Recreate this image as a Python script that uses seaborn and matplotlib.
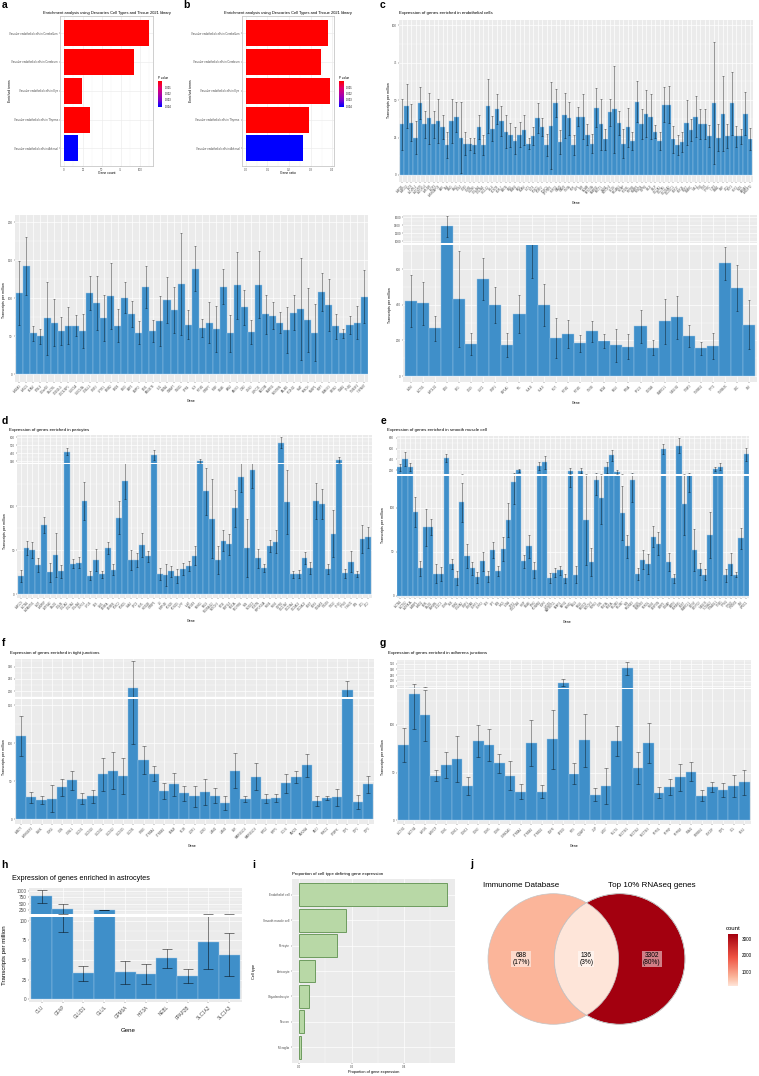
import numpy as np
import matplotlib
matplotlib.use("Agg")
import matplotlib.pyplot as plt
from matplotlib.patches import Circle
from matplotlib.colors import LinearSegmentedColormap, Normalize
from matplotlib.cm import ScalarMappable
from matplotlib.ticker import MultipleLocator
import seaborn as sns

plt.rcParams["font.family"] = ["Liberation Sans", "DejaVu Sans"]

# ---------------- data ----------------
terms = ["Vascular endothelial cells in Cerebellum", "Vascular endothelial cells in Cerebrum",
         "Vascular endothelial cells in Eye", "Vascular endothelial cells in Thymus",
         "Vascular endothelial cells in Adrenal"]
gene_count = [112, 92, 24, 34, 18]
gene_ratio = [0.380, 0.349, 0.389, 0.292, 0.266]
p_value = [3.8e-5, 4.1e-5, 6.5e-5, 5.2e-5, 4.1e-3]

endo_genes = ("ABCB1 ABCG2 ACE ACVRL1 ADGRF5 ADGRL4 APLNR AQP1 ARHGAP29 BMX CA4 CAV1 CAV2 CD34 CD93 CDH5 "
              "CLDN5 COL4A1 COL4A2 CXCL12 DLL4 ECSCR EGFL7 EMCN ENG EPAS1 ERG ESAM FLT1 FLT4 FOXC1 FOXF2 "
              "FOXQ1 GPIHBP1 HSPG2 ICAM1 ICAM2 ITM2A KDR LEF1 LSR MCAM MFSD2A MMRN2 MYCT1 NOS3 NOTCH4 OCLN "
              "PECAM1 PLVAP PODXL PTPRB RAMP2 ROBO4 S1PR1 SELE SELP SLC2A1 SLC7A5 SLCO1A2 SLCO1C1 SOX17 "
              "SOX18 SOX7 SPARC TAL1 TEK TIE1 TFRC TJP1 VWA1 VWF ZIC3 HEY1 HEY2 NID1 LAMA4 ANGPT2").split()
endo_tpm = [34, 46, 35, 25, 48, 34, 38, 34, 36, 32, 20, 36, 39, 25, 21, 21, 20, 32, 20, 46,
            31, 44, 36, 29, 27, 23, 27, 30, 21, 26, 38, 32, 20, 33, 48, 22, 40, 38, 20, 39,
            39, 27, 21, 45, 34, 24, 42, 44, 35, 21, 32, 23, 49, 34, 41, 39, 29, 23, 47, 47,
            24, 20, 22, 35, 30, 39, 34, 34, 26, 48, 25, 41, 26, 48, 26, 26, 41, 24]
endo_sd = [17, 14.5, 12.5, 11, 10.5, 9, 17, 9, 14.5, 8, 9, 14.5, 10, 23.5, 8, 4, 5, 8, 6.5, 18,
           8.5, 10, 10, 11, 8, 9, 8.5, 10, 3.5, 6, 10, 6, 7.5, 29, 9.5, 8, 15, 11, 7, 6.5,
           15, 7, 6.5, 13, 17, 7, 9, 29, 8, 10, 13, 6, 13.5, 10, 15.5, 15, 4.5, 6, 11.5, 12.5,
           9, 7, 6.5, 15, 7.5, 13.5, 10, 10, 7.5, 41, 9, 25, 8, 21, 7, 5, 14.5, 7.5]

endo2_genes = ("ANXA3 ARL15 BCAM BTNL9 C10orf10 CALCRL CD300LG CDC42EP1 CLEC1A CLEC14A COBLL1 CRIP2 "
               "CYYR1 EFNB2 EHD4 ELK3 EMP1 ENPP2 ETS1 FAM167B FLI1 GATA2 GIMAP7 GNG11 GPR4 HLX IFITM1 "
               "IGFBP7 INSR ITGA6 JAM2 KANK3 LDB2 LIMS2 LRRC32 MECOM MMRN1 NOSTRIN PALMD PCDH12 PLAT "
               "PRKCH RASIP1 RBP7 SHANK3 SPNS2 STAB1 THBD TM4SF1 TSPAN7").split()
endo2_tpm = [107, 143, 54, 50, 74, 68, 57, 64, 64, 57, 107, 94, 74, 103, 64, 101, 79, 55, 115, 57,
             70, 98, 85, 119, 65, 139, 61, 68, 60, 115, 54, 117, 88, 56, 118, 79, 77, 68, 58, 81,
             86, 71, 55, 108, 91, 63, 54, 65, 68, 102]
endo2_sd = [42, 38, 10, 9.5, 48, 31, 19, 24, 14, 23, 22, 36, 30, 43, 22, 20, 17, 15, 28, 14,
            33, 30, 30, 67, 19, 30, 12, 27, 30, 23, 24, 44, 23, 16, 44, 26, 18, 14, 30, 23,
            67, 42, 38, 25, 34, 16, 6, 12, 22, 35]

endo3_genes = ("A2M ACTG1 APOLD1 B2M BSG CD59 CLIC1 CRIP1 EEF1A1 FTL HLA-B HLA-E IFI27 IFITM2 IFITM3 "
               "ITM2B MT2A MYL6 PTMA RPL13 S100A6 SPARCL1 TAGLN2 TIMP3 TMSB10 TPT1 TMSB4X UBC VIM").split()
endo3_tpm = [421, 407, 267, 1367, 432, 181, 544, 398, 174, 348, 740, 398, 211, 235, 185, 252, 198,
             172, 164, 278, 159, 306, 329, 224, 155, 168, 632, 495, 288]
endo3_sd = [148, 118, 71, 267, 269, 62, 118, 100, 67, 107, 190, 117, 112, 78, 48, 59, 38, 91, 70,
            90, 41, 124, 120, 62, 37, 71, 94, 129, 137]

peri_genes = ("ABCC9 ACTA2 ADAMTS1 AGT ANPEP ATP1A2 CALD1 CD248 COL1A2 COL3A1 COL4A5 CSPG4 CYGB DES "
              "DLK1 EDNRA EDNRB FOXC2 FOXD1 GJA4 GPC3 HEYL HIGD1B IGFBP5 IL6 INPP4B KCNJ8 KCNJ15 LHFP "
              "LUM MFGE8 MYH11 MYL9 NDUFA4L2 NOTCH3 NT5E P2RY14 PDE1A PDGFRB PLN PLXDC1 POSTN PPP1R14A "
              "RGS4 RGS5 S1PR3 SLC12A7 SLC19A1 SLC6A12 SLC6A20 SOST SOX9 STEAP4 TBX18 TBX2 THY1 TPM2 "
              "TSHZ2 VTN ZIC1 ZIC2").split()
peri_tpm = [21, 53, 50, 33, 79, 25, 45, 26, 416, 35, 36, 106, 21, 39, 23, 53, 28, 87, 129, 39,
            39, 56, 43, 375, 23, 22, 26, 21, 29, 32, 44, 300, 117, 86, 39, 61, 57, 98, 133, 53,
            141, 41, 30, 55, 60, 529, 105, 23, 23, 41, 30, 106, 103, 29, 69, 311, 24, 37, 23, 63, 65]
peri_sd = [7, 8, 9, 8, 9, 11, 25, 7, 42, 5, 6, 22, 5, 13, 4, 7, 6, 19, 21, 11,
           8, 14, 6, 62, 7, 13, 6, 8, 7, 6, 11, 21, 27, 45, 16, 12, 12, 21, 17, 33,
           20, 11, 5, 7, 13, 71, 36, 4, 5, 7, 7, 20, 17, 6, 27, 35, 5, 12, 3, 16, 12]

smc_genes = ("ACTA2 ACTG2 ADRA1A AEBP1 ANO1 BGN CALD1 CARMN CCDC3 CDH6 CKB CNN1 COL6A2 CRIP1 CRYAB "
             "CSRP1 CSRP2 DES DPT ELN FHL5 FLNA GPX3 GUCY1A3 HHIP ITGA8 JPH2 KCNMB1 LGR6 LMOD1 "
             "MAP3K7CL MFAP4 MRVI1 MYH11 MYL9 MYLK MYOCD NOTCH3 NTRK3 OGN PDE3A PDE5A PDLIM3 PDLIM7 "
             "PLN PRUNE2 PTGIS RBPMS2 RERGL RGS5 SBSPON SFRP1 SLMAP SMTN SORBS1 SOST SPARCL1 SYNM "
             "SYNPO2 TAGLN TCEAL2 TINAGL1 TNS1 TPM1 TPM2 TRIM55 VIM WFDC1").split()
smc_tpm = [255, 402, 261, 95, 31, 78, 78, 25, 25, 426, 36, 20, 106, 45, 31, 21, 39, 22, 52, 28,
           53, 86, 129, 200, 39, 56, 29, 280, 347, 20, 26, 29, 20, 180, 24, 194, 86, 38, 132, 111,
           255, 475, 170, 94, 56, 132, 25, 41, 36, 67, 59, 592, 38, 20, 653, 104, 138, 52, 30, 24,
           69, 218, 267, 23, 36, 24, 65, 494]
smc_sd = [60, 128, 80, 17, 9, 21, 9, 11, 8, 74, 6, 8, 22, 14, 7, 6, 11, 6, 9, 6,
          14, 19, 25, 24, 7, 13, 9, 79, 116, 6, 5, 5, 5, 57, 10, 43, 51, 16, 18, 30,
          98, 98, 30, 31, 13, 25, 7, 11, 11, 12, 13, 98, 10, 5, 135, 35, 20, 24, 7, 6,
          26, 37, 68, 7, 12, 3, 12, 122]

tj_genes = ("AMOT ARHGEF2 CASK CDK4 CGN CGNL1 CLDN1 CLDN10 CLDN11 CLDN12 CLDN15 CLDN5 CRB3 CTNNA1 "
            "CTNNB1 ESAM F11R ILDR1 ILDR2 JAM2 JAM3 LSR MARVELD2 MARVELD3 MPDZ MPP5 OCLN PARD3 "
            "PARD6A PATJ PRKCZ SYMPK TJP1 TJP2 TJP3").split()
tj_tpm = [109, 29, 25, 27, 42, 51, 27, 30, 59, 64, 57, 212, 78, 60, 37, 46, 34, 30, 36, 31,
          21, 64, 27, 56, 27, 28, 47, 55, 71, 24, 28, 29, 204, 23, 46]
tj_sd = [26, 7, 5, 18, 11, 13, 7, 8, 22, 24, 24, 113, 18, 10, 10, 15, 10, 14, 17, 10,
         9, 23, 4, 18, 6, 5, 13, 8, 15, 7, 3, 11, 38, 9, 11]

aj_genes = ("ACTN1 ACTN4 AFDN ARVCF CDH1 CDH11 CDH13 CDH2 CDH5 CDH6 CSNK2A1 CTNNA1 CTNNB1 CTNND1 "
            "EGFR EP300 FYN IQGAP1 JUP LMO7 MLLT4 NECTIN1 NECTIN2 NECTIN3 PTPN1 PTPRF PTPRM SNAI1 "
            "SORBS1 SSX2IP TJP1 VCL YES1").split()
aj_tpm = [79, 132, 110, 47, 58, 64, 36, 83, 79, 60, 47, 30, 81, 30, 85, 182, 49, 84, 27, 36,
          83, 312, 55, 81, 29, 35, 45, 51, 26, 35, 32, 36, 40]
aj_sd = [18, 36, 27, 6, 14, 24, 9, 17, 17, 10, 15, 8, 24, 7, 31, 30, 11, 28, 7, 19,
         16, 58, 17, 21, 6, 8, 14, 10, 6, 5, 7, 12, 13]

astro_genes = ["CLU", "GFAP", "GLUD1", "GLUL", "GPM6A", "HIF3A", "NEBL", "PPAP2B", "SLC1A2", "SLC1A3"]
astro_tpm = [781, 289, 32.7, 250, 34, 32, 52, 29, 73, 57]
astro_sd = [247, 203, 9, 15, 15, 13, 12, 9, 35, 28]

cell_types = ["Endothelial cell", "Smooth muscle cell", "Pericyte", "Astrocyte",
              "Oligodendrocyte", "Neuron", "Microglia"]
cell_prop = [0.566, 0.178, 0.143, 0.059, 0.036, 0.019, 0.005]

venn_sets = ["Immunome Database", "Top 10% RNAseq genes"]
venn_counts = [688, 136, 3302]  # left only, overlap, right only

# ---------------- figure helpers ----------------
W, H = 759, 1076
BAR = "#3F8FC9"
EDGE = "#9FC6E6"
PANEL = "#EBEBEB"

fig = plt.figure(figsize=(W / 100, H / 100), dpi=100)


def box(x0, y0, x1, y1):
    return fig.add_axes([x0 / W, 1 - y1 / H, (x1 - x0) / W, (y1 - y0) / H])


def ptext(x, y, s, **kw):
    kw.setdefault("ha", "center")
    kw.setdefault("va", "center")
    fig.text(x / W, 1 - y / H, s, **kw)


def gg(ax, fs):
    ax.set_facecolor(PANEL)
    for sp in ax.spines.values():
        sp.set_visible(False)
    ax.tick_params(length=1.0, width=0.3, color="#333333", labelcolor="#4D4D4D",
                   labelsize=fs, pad=0.8)


def bars(ax, genes, vals, sd, ylim, ticks, fs=2.2, lw=0.55, cap=0.8, show_x=True, xfs=None):
    sns.barplot(x=genes, y=vals, color=BAR, saturation=1, width=1.0,
                edgecolor=EDGE, linewidth=0.3, ax=ax)
    ax.errorbar(np.arange(len(genes)), vals, yerr=sd, fmt="none", ecolor="black",
                alpha=0.5, elinewidth=lw, capsize=cap, capthick=lw)
    gg(ax, fs)
    ax.set_xlim(-0.6, len(genes) - 0.4)
    ax.set_ylim(*ylim)
    ax.set_yticks(ticks)
    ax.yaxis.set_minor_locator(MultipleLocator((ticks[1] - ticks[0]) / 2))
    ax.grid(which="major", color="white", lw=0.5)
    ax.grid(which="minor", axis="y", color="white", lw=0.25)
    ax.tick_params(which="minor", length=0)
    ax.set_axisbelow(True)
    ax.set_xlabel("")
    ax.set_ylabel("")
    if show_x:
        ax.set_xticks(range(len(genes)))
        ax.set_xticklabels(genes, rotation=45, ha="right", rotation_mode="anchor",
                           fontsize=xfs or fs * 0.9)
    else:
        ax.tick_params(axis="x", labelbottom=False, length=0)


def broken(top_box, bot_box, genes, vals, sd, top_lim, top_ticks, bot_lim, bot_ticks, **kw):
    top = box(*top_box)
    bars(top, genes, vals, sd, top_lim, top_ticks, show_x=False, **kw)
    bot = box(*bot_box)
    bars(bot, genes, vals, sd, bot_lim, bot_ticks, **kw)
    return top, bot


def letter(x, y, s):
    ptext(x, y, s, fontsize=7.5, fontweight="bold", ha="left")


# ---------------- a / b : enrichment ----------------
pv_cmap = LinearSegmentedColormap.from_list("pv", ["#FF0000", "#E5006A", "#B5009F", "#7A00CF", "#0000FF"])
pv_norm = Normalize(min(p_value), max(p_value))
pv_colors = [pv_cmap(pv_norm(p)) for p in p_value]


def enrich(x0, x1, vals, xlim, xticks, xlabels, xlabel, ylab_x):
    ax = box(x0, 15.7, x1, 165.7)
    sns.barplot(x=vals, y=terms, hue=terms, palette=pv_colors, legend=False, width=0.9,
                saturation=1, edgecolor="none", ax=ax)
    ax.set_facecolor("white")
    for sp in ax.spines.values():
        sp.set_color("#C8C8C8")
        sp.set_linewidth(0.6)
    ax.set_xlim(*xlim)
    ax.set_ylim(4.6, -0.6)
    ax.set_xticks(xticks, xlabels)
    ax.xaxis.set_minor_locator(MultipleLocator((xticks[1] - xticks[0]) / 2))
    ax.grid(which="major", color="#EBEBEB", lw=0.45)
    ax.grid(which="minor", axis="x", color="#F3F3F3", lw=0.25)
    ax.set_axisbelow(True)
    ax.tick_params(length=1.0, width=0.3, color="#333333", labelcolor="#4D4D4D",
                   labelsize=2.0, pad=0.8)
    ax.tick_params(which="minor", length=0)
    ax.set_xlabel("")
    ax.set_ylabel("")
    mid = (x0 + x1) / 2
    ptext(mid, 13.3, "Enrichment analysis using Descartes Cell Types and Tissue 2021 library",
          fontsize=2.9)
    ptext(mid, 172.7, xlabel, fontsize=2.4)
    ptext(ylab_x, 90.7, "Enriched terms", fontsize=2.4, rotation=90)
    # p value legend
    lx = x1 + 5
    ptext(lx, 78.3, "P value", fontsize=2.2, ha="left")
    cax = box(lx, 81.3, lx + 4.6, 106.7)
    cb = fig.colorbar(ScalarMappable(norm=pv_norm, cmap=pv_cmap), cax=cax)
    cax.invert_yaxis()
    cb.outline.set_visible(False)
    cb.set_ticks([0.001, 0.002, 0.003, 0.004])
    cax.tick_params(labelsize=1.8, length=1.0, width=0.3, color="white", pad=0.6)


enrich(60.3, 152.7, gene_count, (-4.9, 117.2), [0, 25, 50, 75, 100],
       ["0", "25", "50", "75", "100"], "Gene count", 10)
enrich(241.7, 334.3, gene_ratio, (-0.019, 0.409), [0.0, 0.1, 0.2, 0.3, 0.4],
       ["0.0", "0.1", "0.2", "0.3", "0.4"], "Gene ratio", 191.3)

# ---------------- c : endothelial ----------------
ax_c = box(399.3, 20, 752.7, 182)
bars(ax_c, endo_genes, endo_tpm, endo_sd, (-4.7, 103.5), [0, 25, 50, 75, 100], xfs=1.9)
ptext(399.3, 13.3, "Expression of genes enriched in endothelial cells", fontsize=3.2, ha="left")
ptext(389, 100, "Transcripts per million", fontsize=2.6, rotation=90)
ptext(576, 203, "Gene", fontsize=2.6)

ax_c2 = box(15, 215, 368.3, 381.7)
bars(ax_c2, endo2_genes, endo2_tpm, endo2_sd, (-9.7, 209.6), [0, 50, 100, 150, 200], xfs=1.9)
ptext(4.5, 300, "Transcripts per million", fontsize=2.6, rotation=90)
ptext(191, 400.5, "Gene", fontsize=2.6)

broken((403.3, 215, 756.7, 243.3), (403.3, 245, 756.7, 382.3), endo3_genes, endo3_tpm, endo3_sd,
       (951, 1650), [1000, 1200, 1400, 1600], (-35, 735), [0, 200, 400, 600], xfs=1.9)
ptext(390, 305, "Transcripts per million", fontsize=2.6, rotation=90)
ptext(576, 402.5, "Gene", fontsize=2.6)

# ---------------- d : pericytes ----------------
broken((17.3, 435, 371.7, 462.7), (17.3, 464.3, 371.7, 598.3), peri_genes, peri_tpm, peri_sd,
       (279, 625), [300, 400, 500, 600], (-4.5, 147.7), [0, 50, 100], xfs=1.9)
ptext(9.3, 430, "Expression of genes enriched in pericytes", fontsize=3.2, ha="left")
ptext(4.7, 531, "Transcripts per million", fontsize=2.6, rotation=90)
ptext(191, 621, "Gene", fontsize=2.6)

# ---------------- e : smooth muscle ----------------
broken((396.7, 436, 749.3, 474), (396.7, 476, 749.3, 598), smc_genes, smc_tpm, smc_sd,
       (132, 831), [200, 400, 600, 800], (-2.6, 136), [0, 50, 100], xfs=1.9)
ptext(387.3, 430.5, "Expression of genes enriched in smooth muscle cell", fontsize=3.2, ha="left")
ptext(383.3, 525, "Transcripts per million", fontsize=2.6, rotation=90)
ptext(567, 622, "Gene", fontsize=2.6)

# ---------------- f : tight junctions ----------------
broken((15, 659, 374, 697.3), (15, 699.3, 374, 824), tj_genes, tj_tpm, tj_sd,
       (174, 333), [200, 250, 300], (-6.2, 157.5), [0, 50, 100, 150], xfs=2.0, cap=1.2)
ptext(10, 652.7, "Expression of genes enriched in tight junctions", fontsize=3.2, ha="left")
ptext(4.3, 757, "Transcripts per million", fontsize=2.6, rotation=90)
ptext(192, 845.7, "Gene", fontsize=2.6)

# ---------------- g : adherens junctions ----------------
broken((397.3, 660, 750.7, 687.7), (397.3, 689.3, 750.7, 824), aj_genes, aj_tpm, aj_sd,
       (135, 386), [150, 200, 250, 300, 350], (-3.8, 137.4), [0, 50, 100], xfs=2.0, cap=1.2)
ptext(388.3, 653.3, "Expression of genes enriched in adherens junctions", fontsize=3.2, ha="left")
ptext(383, 757, "Transcripts per million", fontsize=2.6, rotation=90)
ptext(574, 846, "Gene", fontsize=2.6)

# ---------------- h : astrocytes ----------------
broken((29.3, 888.3, 241.7, 914), (29.3, 917.3, 241.7, 1002.3), astro_genes, astro_tpm, astro_sd,
       (94.6, 1093), [250, 500, 750, 1000], (-4.2, 104.7), [0, 25, 50, 75, 100],
       fs=3.3, xfs=3.3, lw=0.7, cap=3.5)
ptext(11.7, 879, "Expression of genes enriched in astrocytes", fontsize=5.2, ha="left")
ptext(5, 955, "Transcripts per million", fontsize=4.4, rotation=90)
ptext(128, 1031, "Gene", fontsize=4.4)

# ---------------- i : proportion per cell type ----------------
ax_i = box(292.3, 879.3, 455, 1062.7)
sns.barplot(x=cell_prop, y=cell_types, color="#B8D8A6", edgecolor="#6D9B5E", linewidth=0.7,
            width=0.9, saturation=1, ax=ax_i)
gg(ax_i, 2.2)
ax_i.set_xlim(-0.0268, 0.595)
ax_i.set_ylim(6.6, -0.6)
ax_i.set_xticks([0.0, 0.2, 0.4], ["0.0", "0.2", "0.4"])
ax_i.xaxis.set_minor_locator(MultipleLocator(0.1))
ax_i.grid(which="major", color="white", lw=0.5)
ax_i.grid(which="minor", axis="x", color="white", lw=0.25)
ax_i.tick_params(which="minor", length=0)
ax_i.set_axisbelow(True)
ax_i.set_xlabel("")
ax_i.set_ylabel("")
ptext(292.3, 874.3, "Proportion of cell type defining gene expression", fontsize=3.2, ha="left")
ptext(254, 971.7, "Cell type", fontsize=2.8, rotation=90)
ptext(374, 1071.5, "Proportion of gene expression", fontsize=2.8)

# ---------------- j : venn ----------------
venn_cmap = LinearSegmentedColormap.from_list(
    "venn", [(0, "#FEE5D9"), (0.17, "#FBB69B"), (0.55, "#EF5343"), (1, "#A3000F")])
venn_norm = Normalize(min(venn_counts), max(venn_counts))
total = sum(venn_counts)

ax_j = box(475, 870, 725, 1050)
ax_j.set_xlim(-1.707, 2.121)
ax_j.set_ylim(-1.394, 1.363)
ax_j.axis("off")
cx = 0.508
left = Circle((-cx, 0), 1, fc=venn_cmap(venn_norm(venn_counts[0])), ec="#C4C4C4", lw=0.5)
right = Circle((cx, 0), 1, fc=venn_cmap(venn_norm(venn_counts[2])), ec="#C4C4C4", lw=0.5)
ax_j.add_patch(left)
ax_j.add_patch(right)
lens = Circle((-cx, 0), 1, fc=venn_cmap(venn_norm(venn_counts[1])), ec="#C4C4C4", lw=0.5)
ax_j.add_patch(lens)
lens.set_clip_path(right)
ax_j.add_patch(Circle((cx, 0), 1, fc="none", ec="#C4C4C4", lw=0.5))

for xpos, n in zip([-1.0, 0.0, 1.0], venn_counts):
    ax_j.text(xpos, 0, f"{n}\n({round(100 * n / total)}%)", ha="center", va="center",
              fontsize=4.8, linespacing=1.0,
              bbox=dict(boxstyle="square,pad=0.15", fc="white", alpha=0.5, ec="none"))
for xpos, name in zip([-1.0, 1.0], venn_sets):
    ax_j.text(xpos, 1.118, name, ha="center", va="center", fontsize=5.8)

ptext(726, 928.5, "count", fontsize=4.3, ha="left")
cax_j = box(728, 934, 738, 986)
cb_j = fig.colorbar(ScalarMappable(norm=venn_norm, cmap=venn_cmap), cax=cax_j)
cb_j.outline.set_visible(False)
cb_j.set_ticks([1000, 2000, 3000])
cax_j.tick_params(labelsize=3.3, length=1.5, width=0.4, color="white", pad=1.0)

# ---------------- panel letters ----------------
letter(1.5, 5, "a")
letter(183.5, 5, "b")
letter(379.5, 5, "c")
letter(1.5, 420.7, "d")
letter(380.5, 421, "e")
letter(2, 643.3, "f")
letter(379.5, 642.7, "g")
letter(1.5, 865, "h")
letter(252, 865, "i")
letter(470, 864.3, "j")

fig.savefig("out.png", dpi=100)
